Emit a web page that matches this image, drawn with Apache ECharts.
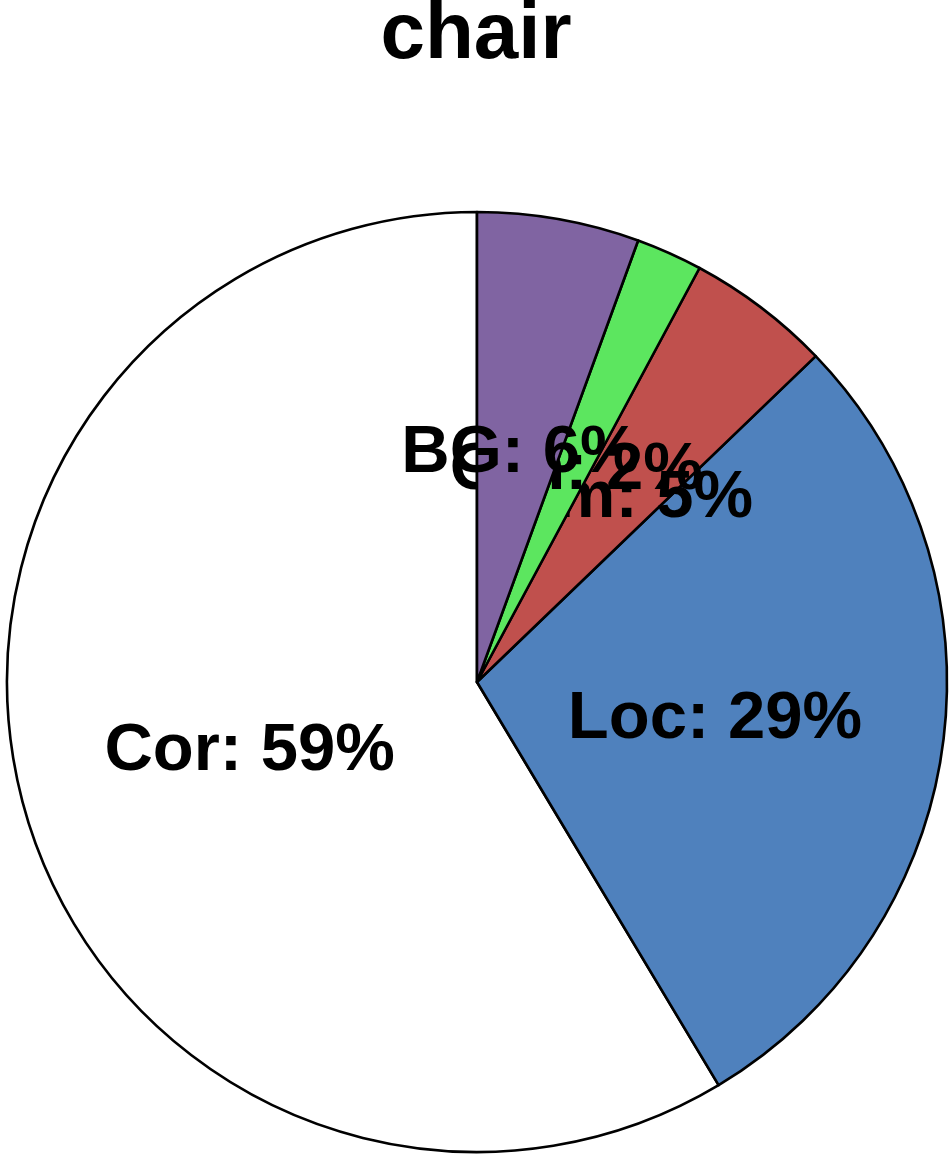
<!DOCTYPE html>
<html>
<head>
<meta charset="utf-8">
<style>html,body{margin:0;padding:0;background:#fff;}#c{width:952px;height:1161px;}</style>
<script src="https://cdn.jsdelivr.net/npm/echarts@6/dist/echarts.min.js"></script>
</head>
<body>
<div id="c"></div>
<script>
const titleText = 'chair';
const categories = ['BG', 'Oth', 'Sim', 'Loc', 'Cor'];
const values = [5.57, 2.28, 4.96, 28.6, 58.6];
const colors = ['#8064A2', '#5CE65F', '#C0504D', '#4F81BD', '#FFFFFF'];
// slices are painted in this order (later slices cover earlier labels)
const paintOrder = ['Cor', 'Loc', 'Sim', 'Oth', 'BG'];

const total = values.reduce((a, b) => a + b, 0);
const series = paintOrder.map((name, k) => {
  const idx = categories.indexOf(name);
  return {
    type: 'pie',
    z: 2 + k,
    center: [477, 682],
    radius: 470,
    startAngle: 90,
    clockwise: true,
    avoidLabelOverlap: false,
    minShowLabelAngle: 0,
    silent: true,
    labelLine: { show: false },
    labelLayout: { hideOverlap: false },
    emphasis: { disabled: true },
    data: categories.map((n, i) => i === idx ? {
      name: n, value: values[i],
      itemStyle: { color: colors[i], borderColor: '#000', borderWidth: 2.6 },
      label: {
        show: true, position: 'inside', color: '#000', offset: [2, 6],
        fontFamily: 'Liberation Sans', fontWeight: 'bold', fontSize: 67,
        formatter: p => p.name + ': ' + Math.round(p.value / total * 100) + '%'
      }
    } : {
      name: n, value: values[i],
      itemStyle: { color: 'rgba(0,0,0,0)', borderWidth: 0 },
      label: { show: false }
    })
  };
});

const chart = echarts.init(document.getElementById('c'));
chart.setOption({
  animation: false,
  title: {
    text: titleText,
    left: 'center',
    top: -9,
    textStyle: { fontFamily: 'Liberation Sans', fontWeight: 'bold', fontSize: 80, color: '#000' }
  },
  series: series
});
</script>
</body>
</html>
